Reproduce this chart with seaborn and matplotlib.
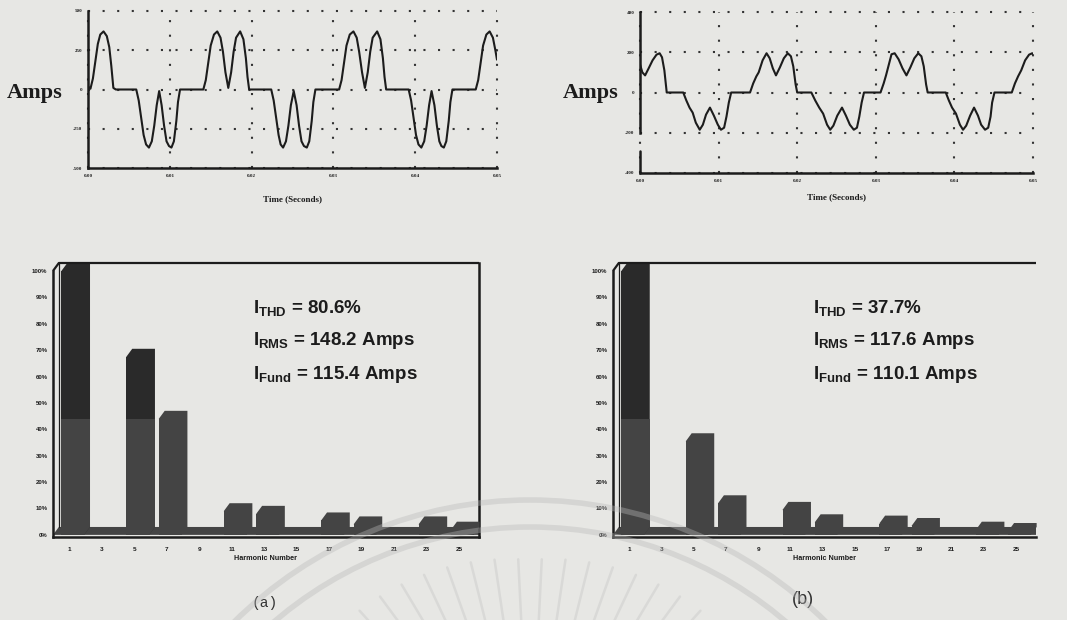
import numpy as np
import pandas as pd
import matplotlib
matplotlib.use("Agg")
import matplotlib.pyplot as plt
from matplotlib.patches import Polygon, Circle
from matplotlib.ticker import FuncFormatter
import seaborn as sns

# ---------------------------------------------------------------- data
# Line current of a six-pulse drive over three cycles (time in ms, current in A)
time_a_ms = [0.0, 0.3, 0.6, 0.9, 1.2, 1.5, 1.9, 2.3, 2.6, 2.85, 3.1, 3.4,
             5.9, 6.2, 6.5, 6.8, 7.1, 7.45, 7.8, 8.1, 8.4, 8.7, 9.0, 9.3, 9.6, 9.9, 10.2, 10.5, 10.8, 11.0, 11.25,
             14.1, 14.4, 14.7, 15.0, 15.4, 15.8, 16.2, 16.5, 16.8, 17.15, 17.5, 17.8, 18.1, 18.6, 19.0, 19.3, 19.5, 19.7,
             22.4, 22.7, 23.0, 23.3, 23.55, 23.85, 24.2, 24.5, 24.8, 25.15, 25.5, 25.8, 26.1, 26.4, 26.75, 27.05, 27.35, 27.55, 27.8,
             30.7, 31.0, 31.3, 31.6, 32.0, 32.45, 32.85, 33.15, 33.5, 33.85, 34.2, 34.5, 34.8, 35.35, 35.75, 36.05, 36.25, 36.45,
             39.2, 39.5, 39.8, 40.1, 40.4, 40.75, 41.1, 41.4, 41.7, 42.0, 42.35, 42.65, 42.95, 43.2, 43.5, 43.8, 44.1, 44.3, 44.55,
             47.4, 47.7, 48.0, 48.3, 48.7, 49.1, 49.5, 49.8, 50.0]
amps_a = [20, 5, 70, 180, 290, 350, 370, 340, 270, 150, 10, 0,
          0, -70, -180, -290, -350, -370, -330, -230, -100, -10, -100, -230, -330, -360, -370, -330, -200, -80, 0,
          0, 60, 170, 280, 350, 370, 330, 240, 110, 10, 110, 240, 330, 370, 320, 200, 80, 0,
          0, -70, -180, -290, -350, -370, -330, -230, -100, -10, -100, -230, -330, -360, -370, -330, -200, -80, 0,
          0, 60, 170, 280, 350, 370, 330, 240, 110, 10, 110, 240, 330, 370, 320, 200, 80, 0,
          0, -70, -180, -290, -350, -370, -330, -230, -100, -10, -100, -230, -330, -360, -370, -330, -200, -80, 0,
          0, 60, 170, 280, 350, 370, 330, 250, 190]

# Same drive fitted with a line reactor
time_b_ms = [0.0, 0.3, 0.65, 1.1, 1.6, 2.1, 2.5, 2.8, 3.1, 3.4,
             5.5, 5.9, 6.3, 6.7, 7.1, 7.6, 8.0, 8.4, 8.9, 9.4, 9.9, 10.3, 10.7, 11.0, 11.3, 11.6,
             14.0, 14.4, 14.8, 15.1, 15.6, 16.1, 16.5, 16.9, 17.3, 17.8, 18.3, 18.8, 19.2, 19.5, 19.8, 20.0,
             21.8, 22.3, 22.8, 23.3, 23.8, 24.2, 24.6, 25.1, 25.7, 26.2, 26.7, 27.2, 27.6, 27.9, 28.2, 28.5,
             30.6, 31.0, 31.3, 31.6, 32.0, 32.4, 32.9, 33.4, 33.9, 34.4, 34.9, 35.4, 35.8, 36.1, 36.4, 36.6,
             38.9, 39.3, 39.7, 40.2, 40.7, 41.1, 41.5, 42.0, 42.5, 43.0, 43.4, 43.9, 44.3, 44.6, 44.8, 45.1,
             47.3, 47.7, 48.1, 48.5, 49.0, 49.5, 49.9, 50.0]
amps_b = [140, 100, 85, 120, 160, 188, 195, 175, 110, 0,
          0, -40, -75, -100, -150, -185, -160, -110, -75, -115, -160, -185, -175, -120, -50, 0,
          0, 45, 80, 100, 160, 195, 170, 120, 85, 125, 170, 195, 180, 130, 40, 0,
          0, -40, -75, -105, -160, -185, -165, -115, -75, -115, -160, -185, -175, -120, -50, 0,
          0, 45, 85, 130, 190, 195, 165, 120, 85, 125, 170, 195, 180, 130, 40, 0,
          0, -40, -75, -105, -160, -185, -165, -115, -75, -115, -160, -185, -175, -120, -50, 0,
          0, 45, 80, 110, 160, 188, 195, 192]

time_ticks_ms = [0, 10, 20, 30, 40, 50]
amp_ticks_a = [-500, -250, 0, 250, 500]
amp_ticks_b = [-400, -200, 0, 200, 400]

# Harmonic spectra, % of fundamental
harmonic_order = ["1", "3", "5", "7", "9", "11", "13", "15", "17", "19", "21", "23", "25"]
spectrum_a = [100, 0, 67.5, 44, 0, 9, 8, 0, 5.5, 4, 0, 4, 2]
spectrum_b = [100, 0, 35.5, 12, 0, 9.5, 4.8, 0, 4.3, 3.4, 0, 2, 1.5]
pct_ticks = [0, 10, 20, 30, 40, 50, 60, 70, 80, 90, 100]

summary_a = [("THD", "80.6%"), ("RMS", "148.2 Amps"), ("Fund", "115.4 Amps")]
summary_b = [("THD", "37.7%"), ("RMS", "117.6 Amps"), ("Fund", "110.1 Amps")]

# ---------------------------------------------------------------- style
W, H = 1067, 620
BG = "#e7e7e4"
INK = "#1c1c1c"
BAR_DARK = "#2a2a2a"
BAR_LIGHT = "#444444"
SHADE_LEVEL = 44      # print density changes above this level
DEPTH_X, DEPTH_Y = 0.18, 3.0   # 3-D depth of the spectrum bars
BAR_W, BAR_SHIFT = 0.70, 0.11

sns.set_theme(style="white")
plt.rcParams.update({
    "font.family": ["Liberation Sans", "DejaVu Sans"],
    "mathtext.fontset": "custom",
    "mathtext.rm": "Liberation Sans",
    "mathtext.bf": "Liberation Sans:bold",
    "axes.facecolor": "none",
    "figure.facecolor": BG,
    "savefig.facecolor": BG,
})

fig = plt.figure(figsize=(W / 100, H / 100), dpi=100)


def rect(left, top, right, bottom):
    return [left / W, 1 - bottom / H, (right - left) / W, (bottom - top) / H]


def fpos(x, y):
    return x / W, 1 - y / H


# ---------------------------------------------------------------- waveforms
def draw_wave(ax, t_ms, amps, yticks, spine_gap=None):
    df = pd.DataFrame({"t": t_ms, "i": amps})
    sns.lineplot(data=df, x="t", y="i", ax=ax, color=INK, linewidth=1.5,
                 estimator=None, sort=False, zorder=4)
    ax.set_xlim(time_ticks_ms[0], time_ticks_ms[-1])
    ax.set_ylim(yticks[0], yticks[-1])
    ax.set_xticks(time_ticks_ms)
    ax.set_yticks(yticks)
    ax.xaxis.set_major_formatter(FuncFormatter(lambda v, p: f"{v / 1000:.2f}"))
    ax.yaxis.set_major_formatter(FuncFormatter(lambda v, p: f"{v:.0f}"))
    ax.grid(True, linestyle=(0, (1, 6)), linewidth=1.5, color="#333333")
    for g in ax.get_xgridlines() + ax.get_ygridlines():
        g.set_clip_on(False)
    ax.spines["top"].set_visible(False)
    ax.spines["right"].set_visible(False)
    for s in ("left", "bottom"):
        ax.spines[s].set_linewidth(1.8)
        ax.spines[s].set_color(INK)
    if spine_gap is not None:
        ax.spines["left"].set_bounds(spine_gap[1], yticks[-1])
        ax.plot([0, 0], [yticks[0], spine_gap[0]], color=INK, lw=1.8,
                clip_on=False, zorder=5)
    ax.tick_params(direction="in", length=3, width=1, labelsize=3.6, pad=4,
                   colors=INK)
    for lab in ax.get_xticklabels() + ax.get_yticklabels():
        lab.set_fontfamily("Liberation Serif")
        lab.set_fontweight("bold")
    ax.set_xlabel("Time (Seconds)", fontsize=6.5, fontweight="bold",
                  family="Liberation Serif", color=INK)
    ax.set_ylabel("")


ax_wa = fig.add_axes(rect(88, 11, 497, 168))
draw_wave(ax_wa, time_a_ms, amps_a, amp_ticks_a)
ax_wa.xaxis.set_label_coords(0.5, -(195 - 168) / 157)

ax_wb = fig.add_axes(rect(640, 12, 1033, 173))
draw_wave(ax_wb, time_b_ms, amps_b, amp_ticks_b, spine_gap=(-290, -200))
ax_wb.xaxis.set_label_coords(0.5, -(193 - 173) / 161)

for x in (7, 563):
    fig.text(*fpos(x, 93), "Amps", family="Liberation Serif", fontweight="bold",
             fontsize=16, color=INK, va="center", ha="left")


# ---------------------------------------------------------------- spectra
def draw_spectrum(ax, values, right_frame):
    n = len(harmonic_order)
    top = 100 + DEPTH_Y
    x_end = n - 0.5 + 0.12
    df = pd.DataFrame({"h": harmonic_order, "pct": values})
    lower = df.assign(pct=np.minimum(df["pct"], SHADE_LEVEL))

    # floor of the 3-D box
    ax.add_patch(Polygon([(-0.5, 0), (-0.5 + DEPTH_X, DEPTH_Y), (x_end, DEPTH_Y), (x_end, 0)],
                         closed=True, facecolor=BAR_LIGHT, edgecolor="none", zorder=2))

    sns.barplot(data=df, x="h", y="pct", order=harmonic_order, color=BAR_DARK,
                saturation=1, width=BAR_W, ax=ax, zorder=3, linewidth=0)
    n_first = len(ax.patches)
    sns.barplot(data=lower, x="h", y="pct", order=harmonic_order, color=BAR_LIGHT,
                saturation=1, width=BAR_W, ax=ax, zorder=3.2, linewidth=0)
    for p in ax.patches[1:]:
        p.set_x(p.get_x() + BAR_SHIFT)

    # bevelled top and side face of each bar
    for p, v in zip(ax.patches[1:n_first], values):
        if v <= 0:
            continue
        x0, x1, h = p.get_x(), p.get_x() + p.get_width(), p.get_height()
        face = BAR_DARK if h > SHADE_LEVEL else BAR_LIGHT
        ax.add_patch(Polygon([(x0, h), (x0 + DEPTH_X, h + DEPTH_Y), (x1 + DEPTH_X, h + DEPTH_Y),
                              (x1 + DEPTH_X, DEPTH_Y), (x1, 0)], closed=True,
                             facecolor=face, edgecolor="none", zorder=3.1, clip_on=False))
        if h > SHADE_LEVEL:
            ax.add_patch(Polygon([(x1 - 0.01, 0), (x1 - 0.01, SHADE_LEVEL),
                                  (x1 + DEPTH_X, SHADE_LEVEL), (x1 + DEPTH_X, DEPTH_Y)],
                                 closed=True, facecolor=BAR_LIGHT, edgecolor="none",
                                 zorder=3.15))

    ax.set_xlim(-0.5, x_end)
    ax.set_ylim(-0.8, top)
    ax.set_yticks(pct_ticks)
    ax.yaxis.set_major_formatter(FuncFormatter(lambda v, p: f"{v:.0f}%"))
    ax.set_xticks(range(n))
    ax.set_xticklabels(harmonic_order)
    ax.set_xticks(np.arange(-0.5, n, 1.0), minor=True)
    ax.tick_params(axis="x", which="major", length=0, labelsize=4.6, pad=7, colors=INK)
    ax.tick_params(axis="x", which="minor", length=4, width=1.3, direction="out", colors=INK)
    ax.tick_params(axis="y", length=4, width=1.1, direction="inout", labelsize=4.3,
                   pad=2, colors=INK)
    for lab in ax.get_xticklabels() + ax.get_yticklabels():
        lab.set_fontweight("bold")

    ax.spines["left"].set_bounds(-0.8, 100)
    ax.spines["top"].set_visible(False)
    ax.spines["right"].set_visible(right_frame)
    for s in ("left", "bottom", "right"):
        ax.spines[s].set_linewidth(1.8)
        ax.spines[s].set_color(INK)
    # back wall of the box
    ax.plot([-0.5, -0.5 + DEPTH_X, x_end], [100, top, top], color=INK, lw=1.6,
            clip_on=False, zorder=5, solid_capstyle="butt")
    ax.plot([-0.5 + DEPTH_X, -0.5 + DEPTH_X], [DEPTH_Y, top], color=INK, lw=0.9,
            clip_on=False, zorder=2.5)

    ax.set_xlabel("Harmonic Number", fontsize=5.2, fontweight="bold", color=INK, labelpad=2)
    ax.set_ylabel("")
    return ax


ax_sa = fig.add_axes(rect(53, 263, 479, 537))
draw_spectrum(ax_sa, spectrum_a, right_frame=True)
ax_sb = fig.add_axes(rect(613, 263, 1036, 537))
draw_spectrum(ax_sb, spectrum_b, right_frame=False)

for x0, rows in ((253, summary_a), (813, summary_b)):
    for (sub, val), yb in zip(rows, (313, 345, 379)):
        fig.text(*fpos(x0, yb), rf"$\mathbf{{I_{{{sub}}}}}$ = {val}", fontsize=13.5,
                 fontweight="bold", color=INK, va="baseline", ha="left")

fig.text(*fpos(265, 603), "(a)", family="Liberation Mono", fontsize=10.5,
         color="#333333", ha="center", va="center")
fig.text(*fpos(803, 600), "(b)", family="Liberation Sans", fontsize=13,
         color="#333333", ha="center", va="center")

# ---------------------------------------------------------------- faint seal printed over the page
ax_seal = fig.add_axes([0, 0, 1, 1], zorder=20)
ax_seal.set_xlim(0, W)
ax_seal.set_ylim(H, 0)
ax_seal.axis("off")
ax_seal.set_facecolor("none")
for r in (420, 393):
    ax_seal.add_patch(Circle((530, 920), r, fill=False, edgecolor="#b8b8b8",
                             linewidth=4.0, alpha=0.38))
for ang in np.arange(-42, 43, 5.6):
    a = np.deg2rad(ang)
    r_out = 240 + 0.35 * abs(ang)
    xs = [530 + r_out * np.sin(a), 530 + 150 * np.sin(a)]
    ys = [800 - r_out * np.cos(a), 800 - 150 * np.cos(a)]
    ax_seal.plot(xs, ys, color="#bcbcbc", lw=1.8, alpha=0.32, solid_capstyle="round")

fig.savefig("out.png", dpi=100, facecolor=BG)
